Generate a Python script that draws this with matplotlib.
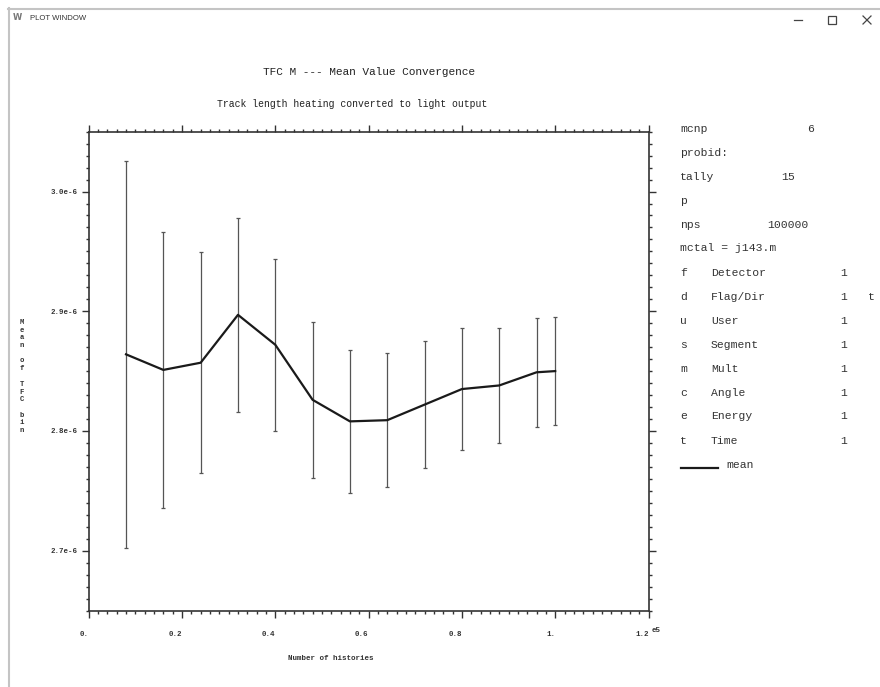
"""MCNP tally fluctuation chart (TFC) plot window, mean value convergence."""
import matplotlib

matplotlib.use("Agg")
import matplotlib.pyplot as plt
from matplotlib.lines import Line2D
from matplotlib.patches import Rectangle
from matplotlib.ticker import MultipleLocator

# data
nps = [8000, 16000, 24000, 32000, 40000, 48000, 56000,
       64000, 72000, 80000, 88000, 96000, 100000]
mean_e6 = [2.864, 2.851, 2.857, 2.897, 2.872, 2.826, 2.808,
           2.809, 2.822, 2.835, 2.838, 2.849, 2.850]
sigma_e6 = [0.1616, 0.1156, 0.0924, 0.0810, 0.0717, 0.0652, 0.0599,
            0.0560, 0.0529, 0.0506, 0.0478, 0.0457, 0.0452]

title = "TFC M --- Mean Value Convergence"
subtitle = "Track length heating converted to light output"
xlabel = "Number of histories"
ylabel = "Mean of TFC bin"
x_ticks = [0, 2e4, 4e4, 6e4, 8e4, 1e5, 1.2e5]
x_ticklabels = ["0.", "0.2", "0.4", "0.6", "0.8", "1.", "1.2"]
y_ticks = [2.7e-6, 2.8e-6, 2.9e-6, 3.0e-6]
y_ticklabels = ["2.7e-6", "2.8e-6", "2.9e-6", "3.0e-6"]

# right hand info panel
info_top = [
    ("mcnp", "6"),
    ("probid:", ""),
    ("tally", "15"),
    ("p", ""),
    ("nps", "100000"),
    ("mctal = j143.m", ""),
]
info_bins = [
    ("f", "Detector", "1", ""),
    ("d", "Flag/Dir", "1", "t"),
    ("u", "User", "1", ""),
    ("s", "Segment", "1", ""),
    ("m", "Mult", "1", ""),
    ("c", "Angle", "1", ""),
    ("e", "Energy", "1", ""),
    ("t", "Time", "1", ""),
]

W, H = 880, 687
MONO = ["Liberation Mono", "DejaVu Sans Mono"]


def fx(px):
    return px / W


def fy(py):
    return 1 - py / H


def main():
    mean = [m * 1e-6 for m in mean_e6]
    sigma = [s * 1e-6 for s in sigma_e6]

    fig = plt.figure(figsize=(W / 100, H / 100), dpi=100)
    fig.patch.set_facecolor("white")

    # window frame and title bar
    fig.add_artist(Line2D([fx(8), fx(880)], [fy(8.5), fy(8.5)],
                          color="#c4c4c4", lw=1.5))
    fig.add_artist(Line2D([fx(8.5), fx(8.5)], [fy(8), fy(687)],
                          color="#c4c4c4", lw=1.5))
    fig.text(fx(17), fy(18), "W", fontsize=6, color="#777777",
             ha="center", va="center", family="DejaVu Sans", weight="bold")
    fig.text(fx(30), fy(18), "PLOT WINDOW", fontsize=5.6, color="#333333",
             ha="left", va="center", family="Liberation Sans")
    fig.add_artist(Line2D([fx(794), fx(802)], [fy(20), fy(20)],
                          color="#444444", lw=0.9))
    fig.add_artist(Rectangle((fx(828), fy(24)), fx(8), 8 / H, fill=False,
                             edgecolor="#444444", lw=0.9))
    fig.add_artist(Line2D([fx(863), fx(871)], [fy(16), fy(24)],
                          color="#444444", lw=0.9))
    fig.add_artist(Line2D([fx(863), fx(871)], [fy(24), fy(16)],
                          color="#444444", lw=0.9))

    # titles
    fig.text(fx(368.5), fy(72), title, fontsize=8, family=MONO,
             ha="center", va="center", color="#222222")
    fig.text(fx(352.5), fy(104), subtitle, fontsize=7, family=MONO,
             ha="center", va="center", color="#222222")

    # plot area
    ax = fig.add_axes([fx(88.7), fy(610.5), (648.5 - 88.7) / W,
                       (610.5 - 131.7) / H])
    ax.errorbar(nps, mean, yerr=sigma, fmt="none", ecolor="#555555",
                elinewidth=0.9, capsize=1.2, capthick=0.9)
    ax.plot(nps, mean, color="#1a1a1a", lw=1.6)

    ax.set_xlim(0, 1.2e5)
    ax.set_ylim(2.65e-6, 3.05e-6)
    ax.set_xticks(x_ticks, x_ticklabels)
    ax.set_yticks(y_ticks, y_ticklabels)
    ax.xaxis.set_minor_locator(MultipleLocator(2e3))
    ax.yaxis.set_minor_locator(MultipleLocator(1e-8))

    ax.tick_params(which="both", direction="out", top=True, right=True,
                   color="#333333", width=1.0)
    ax.tick_params(which="major", length=5)
    ax.tick_params(which="minor", length=2.5)
    ax.tick_params(axis="x", which="major", pad=10, labelsize=5.4)
    ax.tick_params(axis="y", which="major", pad=3, labelsize=5.4)
    for lab in ax.get_xticklabels() + ax.get_yticklabels():
        lab.set_family(MONO)
        lab.set_weight("bold")
        lab.set_color("#333333")
    for lab in ax.get_xticklabels():
        lab.set_ha("right")
    for sp in ax.spines.values():
        sp.set_color("#333333")
        sp.set_linewidth(1.2)

    fig.text(fx(651.5), fy(630.5), "e5", fontsize=5.4, family=MONO,
             weight="bold", color="#333333", ha="left", va="center")
    fig.text(fx(288), fy(658), xlabel, fontsize=5.4, family=MONO,
             weight="bold", color="#333333", ha="left", va="center")
    fig.text(fx(21.5), fy(376.5), "\n".join(ylabel), fontsize=5.2,
             family=MONO, weight="bold", color="#333333", ha="center",
             va="center", linespacing=1.15)

    # info panel
    row = 24.0
    y0 = 128.5
    txt = dict(fontsize=8.2, family=MONO, color="#333333", va="center")
    col_val = {"mcnp": 807, "tally": 781, "nps": 767}
    for i, (key, val) in enumerate(info_top):
        y = y0 + i * row
        fig.text(fx(680), fy(y), key, ha="left", **txt)
        if val:
            fig.text(fx(col_val[key]), fy(y), val, ha="left", **txt)
    for j, (key, name, val, extra) in enumerate(info_bins):
        y = y0 + (len(info_top) + j) * row
        fig.text(fx(680), fy(y), key, ha="left", **txt)
        fig.text(fx(711), fy(y), name, ha="left", **txt)
        fig.text(fx(840), fy(y), val, ha="left", **txt)
        if extra:
            fig.text(fx(868), fy(y), extra, ha="left", **txt)
    y_leg = y0 + (len(info_top) + len(info_bins)) * row + 0.5
    fig.add_artist(Line2D([fx(681), fx(718)], [fy(y_leg + 3), fy(y_leg + 3)],
                          color="#1a1a1a", lw=1.6))
    fig.text(fx(726), fy(y_leg), "mean", ha="left", **txt)

    fig.savefig("out.png", dpi=100)


if __name__ == "__main__":
    main()
